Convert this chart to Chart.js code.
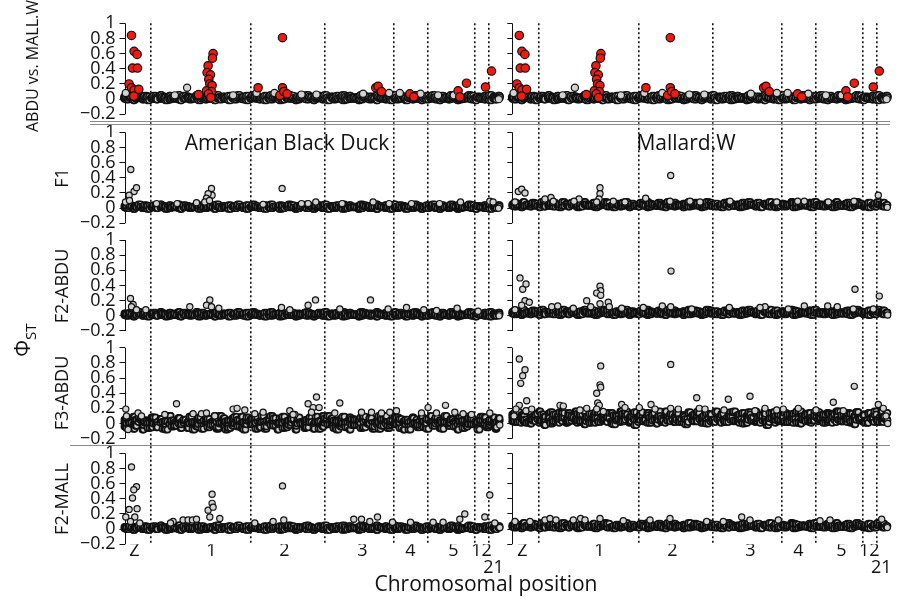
<!DOCTYPE html>
<html>
<head>
<meta charset="utf-8">
<script src="https://cdn.jsdelivr.net/npm/chart.js@4.4.1/dist/chart.umd.min.js"></script>
<style>
  html, body { margin: 0; padding: 0; background: #fff; }
  #fig { position: relative; width: 902px; height: 602px; overflow: hidden; font-family: "Open Sans", sans-serif; color: #111; }
  #fig canvas { position: absolute; z-index: 1; }
  .lbl { position: absolute; white-space: nowrap; line-height: 1; transform: translate(-50%, -50%); z-index: 3; }
  .rot { transform: translate(-50%, -50%) rotate(-90deg); }
  .lbl sub { font-size: 0.72em; }
  .sep { position: absolute; height: 0; border-top: 1px solid #8a8a8a; z-index: 4; }
</style>
</head>
<body>
<div id="fig">
  <div class="lbl rot" style="left:32px;top:66px;font-size:16px">ABDU vs. MALL.W</div>
  <div class="lbl rot" style="left:61px;top:178px;font-size:18px">F1</div>
  <div class="lbl rot" style="left:61px;top:286px;font-size:18px">F2-ABDU</div>
  <div class="lbl rot" style="left:61px;top:393px;font-size:18px">F3-ABDU</div>
  <div class="lbl rot" style="left:61px;top:499px;font-size:18px">F2-MALL</div>
  <div class="lbl rot" style="left:25px;top:340px;font-size:21px">Φ<sub>ST</sub></div>
  <div class="lbl" style="left:287px;top:142px;font-size:21px">American Black Duck</div>
  <div class="lbl" style="left:686px;top:142px;font-size:21px">Mallard.W</div>
  <div class="lbl" style="left:486px;top:583px;font-size:21px">Chromosomal position</div>
  <div class="sep" style="left:90px;top:121px;width:800px"></div>
  <div class="sep" style="left:90px;top:124px;width:800px"></div>
  <div class="sep" style="left:70px;top:445px;width:820px"></div>
</div>
<script>
// chromosome layout along the concatenated genome (x units)
const chromBounds = [26, 126, 200, 269, 303, 350, 364];
const chromLabels = ['Z', '1', '2', '3', '4', '5', '12', '21'];
const chromPos = [10, 87, 160, 238, 286, 329, 357, 369];
const yTicks = [1, 0.8, 0.6, 0.4, 0.2, 0, -0.2];
const xMax = 376;

// dense background of low-differentiation SNPs (two position grids)
const bandX = [0,2,5,9,11,14,18,20,23,27,29,32,36,38,41,45,47,50,54,56,59,
  63,65,68,72,74,77,81,83,86,90,92,95,99,101,104,108,110,113,117,119,122,
  126,128,131,135,137,140,144,146,149,153,155,158,162,164,167,171,173,176,180,182,185,
  189,191,194,198,200,203,207,209,212,216,218,221,225,227,230,234,236,239,243,245,248,
  252,254,257,261,263,266,270,272,275,279,281,284,288,290,293,297,299,302,306,308,311,
  315,317,320,324,326,329,333,335,338,342,344,347,351,353,356,360,362,365,369,371,374];
const bandX2 = [1,4,7,10,12,16,19,22,25,28,31,33,37,40,43,46,49,52,55,57,61,
  64,67,70,73,76,79,82,85,88,91,94,97,100,103,106,109,112,115,118,121,124,
  127,130,133,136,139,142,145,148,151,154,157,160,163,166,169,172,175,178,181,184,187,
  190,193,196,199,202,205,208,211,214,217,220,223,226,229,232,235,238,241,244,247,250,
  253,256,259,262,265,268,271,274,277,280,283,286,289,292,295,298,301,304,307,310,313,
  316,319,322,325,328,331,334,337,340,343,346,349,352,355,358,361,364,367,370,372,375];
const bandA = [0.01,0,0.02,-0.01,0.01,0.02,0,0.01,-0.01,0.02,0.01,0,0.01,0.02,-0.01,0,0.02,0.01,0,-0.01,0.01,
  0.02,0,0.01,0.02,-0.01,0.01,0,0.02,0.01,-0.01,0.02,0,0.01,0.01,-0.01,0.02,0,0.02,0.01,0,-0.01,
  0.01,0.02,0.01,0,0.02,-0.01,0.01,0,0.02,0.01,-0.01,0,0.02,0.01,0.01,-0.01,0,0.02,0.01,0,0.02,
  -0.01,0.01,0.02,0,0.01,-0.01,0.02,0,0.01,0.02,-0.01,0,0.01,0.02,0.01,-0.01,0,0.02,0.01,0,0.01,
  -0.01,0.02,0.01,0,0.02,-0.01,0.01,0,0.01,0.02,-0.01,0.02,0,0.01,0.01,-0.01,0.02,0,0.01,0.02,0,
  -0.01,0.01,0.02,0,0.01,0.02,-0.01,0,0.01,0.02,0.01,0,-0.01,0.02,0.01,0,0.02,-0.01,0.01,0,0.02];
const bandB = [0.03,0.02,0.04,0.01,0.03,0.05,0.02,0.04,0.03,0.01,0.04,0.02,0.05,0.03,0.02,0.04,0.01,0.03,0.05,0.02,0.04,
  0.03,0.01,0.02,0.05,0.03,0.04,0.02,0.01,0.03,0.04,0.05,0.02,0.03,0.01,0.04,0.02,0.03,0.05,0.01,0.03,0.04,
  0.02,0.05,0.03,0.01,0.02,0.04,0.03,0.05,0.02,0.01,0.04,0.03,0.02,0.05,0.04,0.01,0.03,0.02,0.04,0.05,0.03,
  0.01,0.02,0.04,0.03,0.05,0.02,0.03,0.01,0.04,0.02,0.05,0.03,0.04,0.01,0.02,0.03,0.05,0.04,0.02,0.03,0.01,
  0.05,0.03,0.02,0.04,0.01,0.03,0.05,0.02,0.04,0.03,0.01,0.02,0.04,0.05,0.03,0.02,0.01,0.04,0.03,0.05,0.02,
  0.03,0.04,0.01,0.02,0.05,0.03,0.04,0.02,0.01,0.03,0.05,0.04,0.02,0.03,0.01,0.04,0.02,0.05,0.03,0.02,0.04];
const bandC = [0.05,0.07,0.04,0.06,0.08,0.03,0.05,0.07,0.06,0.04,0.08,0.05,0.03,0.06,0.07,0.04,0.05,0.08,0.06,0.03,0.07,
  0.05,0.04,0.06,0.08,0.05,0.03,0.07,0.04,0.06,0.05,0.08,0.07,0.03,0.04,0.06,0.05,0.07,0.08,0.04,0.06,0.03,
  0.05,0.07,0.04,0.08,0.06,0.05,0.03,0.07,0.04,0.06,0.08,0.05,0.07,0.03,0.04,0.06,0.05,0.08,0.03,0.07,0.06,
  0.04,0.05,0.08,0.07,0.03,0.06,0.04,0.05,0.07,0.08,0.06,0.03,0.05,0.04,0.07,0.06,0.08,0.05,0.03,0.07,0.04,
  0.06,0.05,0.08,0.04,0.07,0.03,0.06,0.05,0.04,0.08,0.07,0.06,0.03,0.05,0.04,0.07,0.06,0.08,0.05,0.03,0.04,
  0.07,0.06,0.05,0.08,0.04,0.03,0.06,0.07,0.05,0.04,0.08,0.06,0.03,0.05,0.07,0.04,0.06,0.08,0.05,0.07,0.04];
const wideA = [0.05,-0.06,0.02,0.09,-0.03,0.07,-0.08,0.04,0.01,-0.05,0.08,-0.02,0.06,-0.07,0.03,0.1,-0.04,0,0.07,-0.06,0.04,
  -0.01,0.09,-0.08,0.02,0.06,-0.03,0.08,-0.05,0.01,0.05,-0.07,0.1,-0.02,0.03,-0.06,0.07,0,-0.04,0.09,-0.08,0.04,
  0.06,-0.01,0.08,-0.05,0.02,-0.07,0.05,0.1,-0.03,0.01,0.07,-0.06,0.03,-0.02,0.09,-0.08,0.06,0,0.04,-0.05,0.08,
  -0.03,0.02,-0.07,0.1,0.05,-0.01,0.07,-0.06,0.03,-0.04,0.09,0.01,-0.08,0.06,-0.02,0.04,0.08,-0.05,0,0.07,-0.07,
  0.03,0.1,-0.03,0.05,-0.06,0.02,0.09,-0.01,0.06,-0.08,0.04,-0.04,0.08,0.01,-0.05,0.07,0.03,-0.07,0.1,-0.02,0.05,
  -0.06,0.02,0.09,-0.03,0.06,0,-0.08,0.08,0.04,-0.04,0.07,-0.01,0.03,-0.06,0.09,0.05,-0.05,0.02,0.08,-0.07,0.04];
const wideB = [-0.04,0.07,0.01,-0.07,0.05,0.09,-0.02,0.03,-0.06,0.08,0,-0.05,0.06,0.02,-0.08,0.1,0.04,-0.03,0.07,-0.01,0.05,
  -0.06,0.09,0.02,-0.04,0.08,-0.07,0.03,0.06,-0.02,0.1,-0.05,0.01,0.07,-0.08,0.04,-0.03,0.09,0.05,-0.06,0.02,0.08,
  -0.01,0.06,-0.07,0.03,0.1,-0.04,0.05,-0.02,0.07,-0.08,0.01,0.09,-0.05,0.04,0.06,-0.03,0.08,0,-0.06,0.05,0.02,
  -0.07,0.09,0.03,-0.04,0.07,0.1,-0.01,0.04,-0.08,0.06,0.01,-0.05,0.08,-0.02,0.05,0.03,-0.06,0.09,0,0.07,-0.04,
  0.02,-0.07,0.06,0.1,-0.03,0.04,-0.01,0.08,-0.06,0.03,0.05,-0.08,0.07,0.01,-0.02,0.09,-0.05,0.06,0.02,-0.03,0.08,
  0.04,-0.07,0.1,0,0.05,-0.04,0.07,0.03,-0.06,0.09,-0.01,0.06,0.02,-0.08,0.04,0.08,-0.03,0.05,0.01,-0.05,0.07];
const wideC = [0.08,0.14,0.02,0.11,0.05,0.16,0,0.09,0.13,0.04,0.12,-0.02,0.07,0.15,0.03,0.1,0.06,0.14,0.01,0.11,0.08,
  0.16,0.04,0.12,-0.01,0.09,0.13,0.05,0.15,0.02,0.1,0.07,0.14,0,0.11,0.06,0.16,0.03,0.12,0.08,0.13,-0.02,
  0.09,0.15,0.05,0.11,0.01,0.14,0.07,0.1,0.04,0.16,0.08,0.12,0.02,0.13,0.06,0.09,-0.01,0.15,0.11,0.03,0.14,
  0.07,0.1,0,0.12,0.05,0.16,0.08,0.13,0.02,0.09,0.15,0.04,0.11,0.06,0.14,0.01,0.12,0.08,0.16,0.03,0.1,
  0.13,-0.02,0.07,0.15,0.05,0.11,0.09,0.14,0.02,0.12,0.06,0.16,0,0.1,0.13,0.04,0.08,0.15,0.07,0.11,0.01,
  0.14,0.05,0.12,0.09,0.16,0.03,0.1,0.06,0.13,-0.01,0.15,0.08,0.11,0.04,0.14,0.07,0.12,0.02,0.16,0.09,0.05];
const wideD = [0.12,0.03,0.15,0.07,0.1,0.01,0.14,0.06,0.11,0.16,0.04,0.09,0.13,0,0.12,0.05,0.15,0.08,0.02,0.14,0.1,
  0.06,0.13,0.03,0.16,0.09,0.01,0.11,0.07,0.15,0.04,0.12,0.08,0.14,-0.01,0.1,0.05,0.13,0.16,0.02,0.09,0.15,
  0.06,0.11,0.03,0.14,0.08,0.12,0,0.16,0.07,0.1,0.04,0.13,0.09,0.15,0.02,0.11,0.06,0.14,0.05,0.12,0.16,
  0.08,0.01,0.13,0.1,0.04,0.15,0.07,0.11,0.03,0.14,0.09,0.16,0.06,0.12,0,0.1,0.15,0.04,0.13,0.07,0.11,
  0.16,0.02,0.14,0.08,0.1,0.05,0.15,0.03,0.12,0.09,0.13,0.01,0.16,0.06,0.11,0.14,0.04,0.1,0.15,0.07,0.12,
  0.02,0.13,0.09,0.16,0.05,0.11,0.08,0.14,0.03,0.1,0.15,0.06,0.12,0.01,0.13,0.09,0.16,0.04,0.11,0.07,0.14];

// ABDU vs. MALL.W: significant (red) and other outlying SNPs
const sigX = [7, 9.6, 12.6, 8, 13, 4.6, 7, 9.6, 14.3, 9.3, 88.6, 88, 83.6, 82.6, 86, 84.3, 85.3, 87.6, 82, 87, 84, 86.3, 74, 133.6, 158, 158, 155.3, 159.3, 162.6, 251.3, 253.6, 257, 285.3, 289.3, 333.6, 335.3, 342, 361, 367];
const sigY = [0.84, 0.63, 0.59, 0.41, 0.41, 0.2, 0.15, 0.12, 0.13, 0.04, 0.6, 0.54, 0.44, 0.35, 0.32, 0.26, 0.2, 0.18, 0.11, 0.1, 0.07, 0.02, 0.06, 0.15, 0.81, 0.15, 0.05, 0.1, 0.07, 0.15, 0.17, 0.1, 0.07, 0.03, 0.11, 0.03, 0.21, 0.16, 0.37];
const cmpX = [1.3, 62.6, 150, 275.3, 296, 374.3, 50.3, 108.6, 132, 177, 192, 238.6, 264.6, 313.6, 329.3];
const cmpY = [0.08, 0.15, 0.08, 0.08, 0.07, 0.0, 0.05, 0.05, 0.08, 0.06, 0.06, 0.07, 0.08, 0.05, 0.05];

// F1
const f1AbduX = [6.3, 9.6, 12, 4.6, 1, 5, 87, 87.6, 83.6, 82, 80.3, 85, 157.6, 191.3, 248.6, 336, 365.3, 368.6, 217.6, 138.6, 32, 52.6, 72, 315, 287, 264.6, 177, 183.6, 374];
const f1AbduY = [0.51, 0.22, 0.27, 0.17, 0.08, 0.1, 0.26, 0.17, 0.19, 0.13, 0.08, 0.1, 0.26, 0.08, 0.08, 0.08, 0.09, 0.08, 0.06, 0.05, 0.06, 0.06, 0.07, 0.06, 0.06, 0.06, 0.06, 0.06, 0.0];
const f1MallX = [6, 9.4, 12.7, 2.7, 87.7, 87.7, 86.7, 84.4, 32.7, 38.7, 66.7, 61.7, 158.4, 133.4, 366, 341.7, 101, 112.7, 157.7, 177.7, 187.7, 217.7, 264.4, 285.4, 292, 316, 41, 375];
const f1MallY = [0.22, 0.25, 0.2, 0.08, 0.27, 0.19, 0.12, 0.08, 0.12, 0.14, 0.12, 0.09, 0.43, 0.13, 0.17, 0.09, 0.09, 0.08, 0.09, 0.09, 0.08, 0.09, 0.08, 0.09, 0.09, 0.08, 0.09, 0.01];

// F2-ABDU
const f2aAbduX = [6, 8.6, 7, 12, 21.3, 65.3, 85.3, 82, 87, 94.3, 157, 165.3, 183.6, 191, 246, 215.3, 263.6, 282, 299.3, 312, 332.6, 353.6, 374.6];
const f2aAbduY = [0.23, 0.15, 0.12, 0.08, 0.08, 0.12, 0.21, 0.14, 0.12, 0.1, 0.11, 0.08, 0.14, 0.21, 0.21, 0.09, 0.09, 0.11, 0.08, 0.07, 0.1, 0.06, 0.0];
const f2aMallX = [7.7, 10.4, 13.7, 12.7, 17, 9.4, 2.7, 87.7, 88.4, 84.4, 88.4, 74.4, 87.7, 96, 97, 78.4, 39.4, 45.4, 158.7, 150, 158.4, 217, 252.7, 247.7, 292, 315.4, 325, 342.7, 367, 375.4, 109.4, 131, 61, 179.4, 276, 341, 361];
const f2aMallY = [0.5, 0.35, 0.42, 0.2, 0.18, 0.14, 0.08, 0.39, 0.33, 0.3, 0.27, 0.2, 0.16, 0.18, 0.12, 0.12, 0.12, 0.13, 0.59, 0.13, 0.12, 0.11, 0.12, 0.11, 0.13, 0.13, 0.12, 0.35, 0.26, 0.01, 0.1, 0.11, 0.1, 0.09, 0.09, 0.09, 0.09];

// F3-ABDU
const f3aAbduX = [1.3, 2, 13.6, 17, 52, 40.3, 68.6, 77, 82, 90.3, 108.6, 112.6, 120.3, 130.3, 138.6, 165.3, 170.3, 183.6, 192, 188.6, 194.6, 187, 215.3, 210.3, 237, 247, 257, 265.3, 272, 303.6, 321, 330.3, 338.6, 347, 365.3, 375.3, 168.6, 297, 312, 3.6];
const f3aAbduY = [0.19, 0.1, 0.14, 0.1, 0.26, 0.12, 0.13, 0.13, 0.14, 0.1, 0.19, 0.2, 0.18, 0.13, 0.15, 0.17, 0.12, 0.26, 0.35, 0.21, 0.21, 0.15, 0.27, 0.14, 0.15, 0.15, 0.14, 0.15, 0.17, 0.21, 0.24, 0.15, 0.13, 0.12, 0.14, -0.02, 0.12, 0.14, 0.14, -0.08];
const f3aMallX = [7, 12.7, 10.4, 8.4, 14.4, 7, 3.7, 13.7, 19.4, 88.4, 87.7, 88.4, 84.4, 85.4, 87, 84.4, 91, 47.7, 51, 67.7, 74.4, 109.4, 112.7, 127, 138.7, 142.7, 158.4, 158.4, 166, 184.4, 187, 192.7, 211.7, 216, 237.7, 242.7, 252.7, 264.4, 271, 286, 303.7, 321, 331, 342, 366, 371, 373.7, 375.4, 1.7];
const f3aMallY = [0.85, 0.71, 0.63, 0.53, 0.3, 0.24, 0.19, 0.17, 0.19, 0.76, 0.51, 0.48, 0.4, 0.27, 0.24, 0.19, 0.16, 0.24, 0.23, 0.18, 0.2, 0.25, 0.21, 0.21, 0.25, 0.19, 0.78, 0.2, 0.19, 0.34, 0.2, 0.19, 0.18, 0.32, 0.36, 0.17, 0.2, 0.18, 0.19, 0.2, 0.18, 0.28, 0.17, 0.49, 0.25, 0.2, 0.1, 0.0, 0.1];

// F2-MALL
const f2mAbduX = [7, 12, 9.3, 8, 4.6, 12.6, 1.3, 10.3, 6, 15.3, 48.6, 58.6, 63.6, 68, 72, 46, 83.6, 87.6, 87.6, 88.6, 85.3, 95.3, 158, 159.3, 148.6, 130.3, 229.3, 237, 253, 245.3, 268, 286, 308.6, 318.6, 340.3, 335.3, 360.3, 365.3, 370.3, 375.3];
const f2mAbduY = [0.82, 0.56, 0.52, 0.41, 0.26, 0.27, 0.16, 0.16, 0.1, 0.08, 0.1, 0.12, 0.12, 0.12, 0.13, 0.08, 0.25, 0.46, 0.34, 0.29, 0.16, 0.14, 0.57, 0.12, 0.1, 0.08, 0.13, 0.13, 0.16, 0.1, 0.09, 0.09, 0.09, 0.09, 0.2, 0.13, 0.16, 0.45, 0.08, 0.02];
const f2mMallX = [2.7, 17.7, 32.7, 37.7, 43.7, 61, 68.3, 72.7, 87.7, 111, 137.7, 157.7, 194.4, 211, 229.4, 237.7, 266, 307.7, 317.7, 369.4, 375];
const f2mMallY = [0.1, 0.1, 0.12, 0.14, 0.12, 0.12, 0.14, 0.12, 0.14, 0.11, 0.12, 0.14, 0.1, 0.1, 0.16, 0.12, 0.12, 0.11, 0.12, 0.13, 0.02];

// background layers per panel type: [positions, values]
const tightAbdu = [[bandX, bandA], [bandX, bandB], [bandX2, bandB], [bandX2, bandA]];
const tightMall = [[bandX, bandB], [bandX, bandC], [bandX2, bandC], [bandX2, bandB]];
const wideAbdu = [[bandX, bandA], [bandX2, bandB], [bandX, wideA], [bandX, wideB], [bandX2, wideA], [bandX2, wideB]];
const wideMall = [[bandX, bandB], [bandX2, bandC], [bandX, wideC], [bandX, wideD], [bandX2, wideD], [bandX2, wideC]];

// which arrays go in which panel (row 0..4, col 0 = American Black Duck, 1 = Mallard.W)
const panels = [
  { row: 0, col: 0, bands: tightAbdu, grey: [cmpX, cmpY], red: [sigX, sigY] },
  { row: 0, col: 1, bands: tightAbdu, grey: [cmpX, cmpY], red: [sigX, sigY] },
  { row: 1, col: 0, bands: tightAbdu, grey: [f1AbduX, f1AbduY] },
  { row: 1, col: 1, bands: tightMall, grey: [f1MallX, f1MallY] },
  { row: 2, col: 0, bands: tightAbdu, grey: [f2aAbduX, f2aAbduY] },
  { row: 2, col: 1, bands: tightMall, grey: [f2aMallX, f2aMallY] },
  { row: 3, col: 0, bands: wideAbdu, grey: [f3aAbduX, f3aAbduY] },
  { row: 3, col: 1, bands: wideMall, grey: [f3aMallX, f3aMallY] },
  { row: 4, col: 0, bands: tightAbdu, grey: [f2mAbduX, f2mAbduY] },
  { row: 4, col: 1, bands: tightMall, grey: [f2mMallX, f2mMallY] }
];

// page geometry (pixels)
const PX = 75.83;  // pixels per phi_ST unit
const rowGeo = [
  { top: 23.3, from: 23.3, to: 123.3 },
  { top: 132.3, from: 123.3, to: 232.2 },
  { top: 240, from: 232.2, to: 339.3 },
  { top: 347.7, from: 339.3, to: 446.3 },
  { top: 453.3, from: 446.3, to: 544.3 }
];
const colGeo = [
  { left: 0, width: 512, axisW: 124.5 },
  { left: 500, width: 402, axisW: 12.3 }
];

const INK = '#111';
const GREY = '#d2d2d2';
const RED = '#f01a10';
const FONT = { family: '"Open Sans", sans-serif', size: 18, lineHeight: 0.95 };

function dotsFrom(points, fill, r, bw) {
  return {
    data: points,
    pointRadius: r,
    pointHoverRadius: r,
    pointBackgroundColor: fill,
    pointBorderColor: INK,
    pointBorderWidth: bw,
    clip: false
  };
}
function pairs(xs, ys) {
  return xs.map((x, i) => ({ x: x, y: ys[i] }));
}

function tickText(v) {
  if (v === 0) return '0';
  return v < 0 ? '\u2212' + Math.abs(v) : String(v);
}

// y axis line only between -0.2 and 1
const axisLine = {
  id: 'axisLine',
  beforeDatasetsDraw(chart) {
    const ys = chart.scales.y;
    const x0 = Math.round(chart.chartArea.left) + 0.5;
    const ctx = chart.ctx;
    ctx.save();
    ctx.strokeStyle = INK;
    ctx.lineWidth = 1;
    ctx.beginPath();
    ctx.moveTo(x0, ys.getPixelForValue(yTicks[0]));
    ctx.lineTo(x0, ys.getPixelForValue(yTicks[yTicks.length - 1]));
    ctx.stroke();
    ctx.restore();
  }
};

const fig = document.getElementById('fig');

panels.forEach(p => {
  const g = rowGeo[p.row];
  const c = colGeo[p.col];
  const last = p.row === rowGeo.length - 1;
  const big = p.row === 0;
  const r = big ? 3.6 : 3.1;

  const cTop = Math.floor(g.from) - 14;
  const padTop = g.from - cTop;
  const cH = Math.ceil(g.to - cTop + (last ? 48 : 14));
  const padBottom = cH - (g.to - cTop) - (last ? 40 : 0);

  const canvas = document.createElement('canvas');
  canvas.width = c.width;
  canvas.height = cH;
  canvas.style.left = c.left + 'px';
  canvas.style.top = cTop + 'px';
  fig.appendChild(canvas);

  // all background layers merged and ordered along the genome, so outlines interleave
  const band = [];
  p.bands.forEach(b => band.push(...pairs(b[0], b[1])));
  band.sort((a, b) => a.x - b.x);

  // first dataset is painted last (on top)
  const datasets = [];
  if (p.red) datasets.push(dotsFrom(pairs(p.red[0], p.red[1]), RED, 4.2, 1.2));
  datasets.push(dotsFrom(pairs(p.grey[0], p.grey[1]), GREY, r, 1.2));
  datasets.push(dotsFrom(band, GREY, r, 1.7));

  const scales = {
    x: {
      type: 'linear', min: 0, max: xMax, position: 'bottom',
      afterBuildTicks: s => { s.ticks = chromBounds.map(v => ({ value: v })); },
      afterFit: s => { s.height = 0; s.paddingLeft = 0; s.paddingRight = 0; },
      ticks: { display: false },
      grid: { display: true, drawOnChartArea: true, drawTicks: false, color: INK, lineWidth: 1.6 },
      border: { display: false, dash: [2, 2.5] }
    },
    y: {
      type: 'linear', position: 'left',
      min: 1 - (g.to - g.top) / PX,
      max: 1 + (g.top - g.from) / PX,
      afterBuildTicks: s => { s.ticks = yTicks.map(v => ({ value: v })); },
      afterFit: s => { s.width = c.axisW; s.paddingTop = 0; s.paddingBottom = 0; },
      ticks: { display: p.col === 0, autoSkip: false, padding: 4, color: INK, font: FONT, callback: v => tickText(v) },
      grid: { drawOnChartArea: false, drawTicks: true, tickLength: 5, color: INK, tickColor: INK, lineWidth: 1 },
      border: { display: false }
    }
  };
  if (last) {
    scales.xl = {
      type: 'linear', min: 0, max: xMax, position: 'bottom',
      afterBuildTicks: s => { s.ticks = chromPos.map(v => ({ value: v })); },
      afterFit: s => { s.height = 40; s.paddingLeft = 0; s.paddingRight = 0; },
      ticks: {
        autoSkip: false, maxRotation: 0, minRotation: 0, padding: -2, color: INK, font: FONT,
        callback: (v, i) => (i === chromLabels.length - 1 ? ['', chromLabels[i]] : chromLabels[i])
      },
      grid: { display: false, drawTicks: false },
      border: { display: false }
    };
  }

  new Chart(canvas, {
    type: 'scatter',
    data: { datasets: datasets },
    options: {
      responsive: false,
      animation: false,
      events: [],
      layout: { padding: { left: 0, right: c.width - c.axisW - xMax, top: padTop, bottom: padBottom } },
      scales: scales,
      plugins: { legend: { display: false }, tooltip: { enabled: false } }
    },
    plugins: [axisLine]
  });
});
</script>
</body>
</html>
